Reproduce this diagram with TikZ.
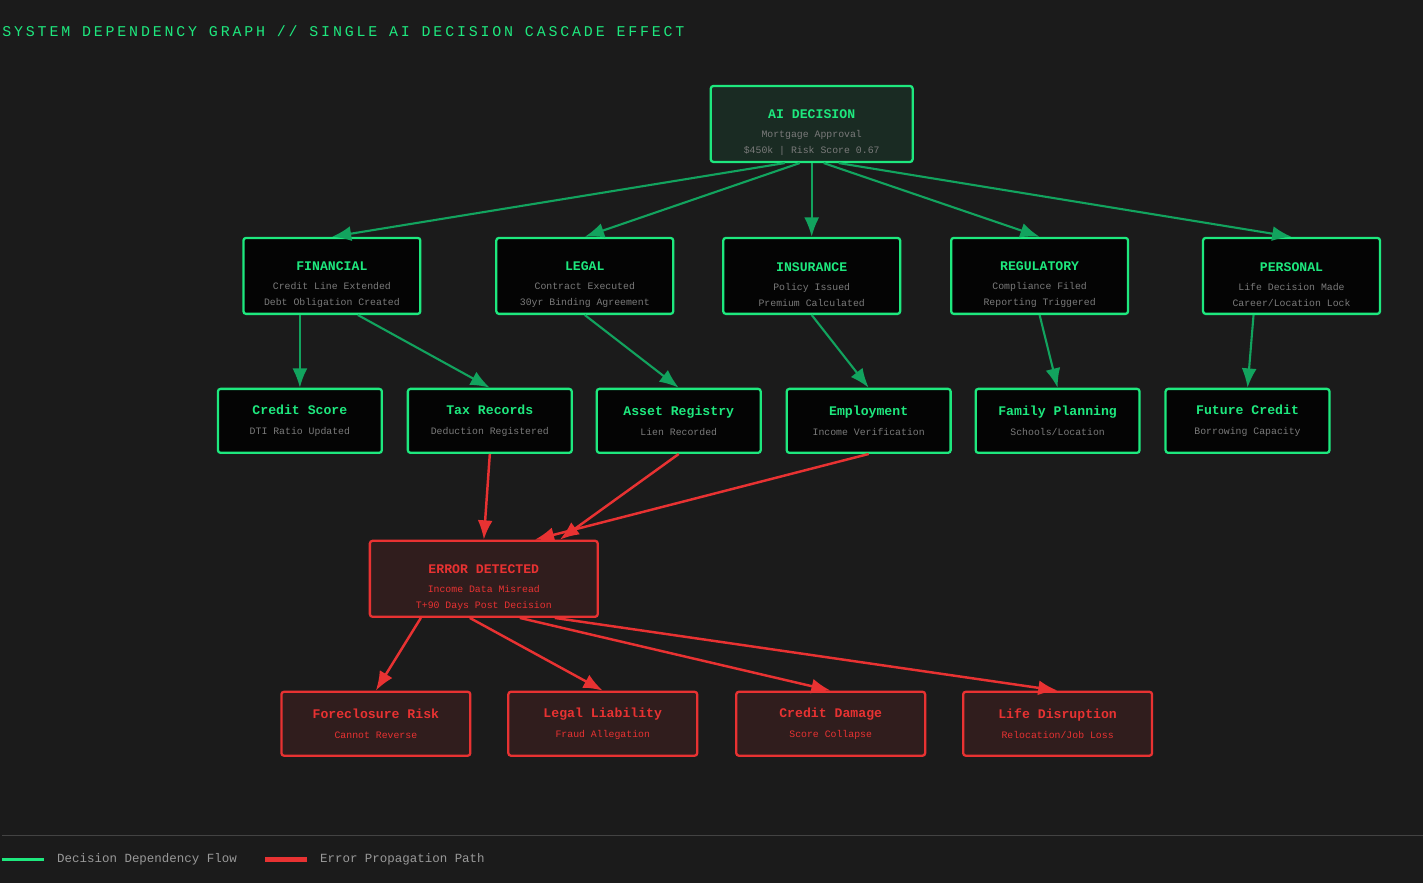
\documentclass[tikz,border=0pt]{standalone}
\usepackage{fontspec}
\setmainfont{Liberation Mono}
\newfontfamily\titlefont[LetterSpace=19]{Liberation Mono}
\usetikzlibrary{arrows.meta,positioning}
\definecolor{bgdark}{HTML}{1B1B1B}
\definecolor{okgreen}{HTML}{1EE87E}
\definecolor{okline}{HTML}{12A35E}
\definecolor{errred}{HTML}{E83232}
\definecolor{subgray}{HTML}{7A7A7A}
\tikzset{
  okbox/.style={draw=okgreen, line width=1.3pt, fill=black!85!bgdark, rounded corners=1.5pt,
    minimum width=3.54cm, minimum height=1.52cm, align=center, font=\fontsize{5.6}{9}\selectfont, text=subgray},
  smallbox/.style={okbox, minimum width=3.28cm, minimum height=1.28cm},
  errbox/.style={okbox, draw=errred, fill=errred!10!bgdark, text=errred},
  errsmall/.style={errbox, minimum width=3.78cm, minimum height=1.28cm},
  okflow/.style={draw=okline, line width=1.2pt, -{Latex[length=11pt,width=8.5pt]}},
  errflow/.style={draw=errred, line width=1.4pt, -{Latex[length=11pt,width=8.5pt]}},
}
\newcommand{\hd}[2]{{\fontsize{7.5}{10}\selectfont\bfseries\color{#1}#2}\\[2pt]}
\newcommand{\hdd}[2]{{\fontsize{7.5}{10}\selectfont\bfseries\color{#1}\rule{0pt}{15pt}#2}\\[2pt]}
\newcommand{\px}[1]{#1*0.02cm}
\begin{document}
\begin{tikzpicture}[x=0.02cm,y=-0.02cm]
  \fill[bgdark] (0,0) rectangle (1424,883);
  \node[anchor=west, inner sep=0pt, text=okgreen, font=\titlefont\fontsize{8.5}{10}\selectfont] (title) at (2,31) {SYSTEM DEPENDENCY GRAPH // SINGLE AI DECISION CASCADE EFFECT};
  % root
  \node[okbox, fill=okline!12!bgdark, minimum width=4.04cm] (ai) at (812,124) {\hdd{okgreen}{AI DECISION}Mortgage Approval\\\$450k | Risk Score 0.67};
  % domains
  \node[okbox] (fin) at (332,276) {\hdd{okgreen}{FINANCIAL}Credit Line Extended\\Debt Obligation Created};
  \node[okbox] (leg) at (585,276) {\hdd{okgreen}{LEGAL}Contract Executed\\30yr Binding Agreement};
  \node[okbox] (ins) at (812,276) {\hdd{okgreen}{INSURANCE}Policy Issued\\Premium Calculated};
  \node[okbox] (reg) at (1040,276) {\hdd{okgreen}{REGULATORY}Compliance Filed\\Reporting Triggered};
  \node[okbox] (per) at (1292,276) {\hdd{okgreen}{PERSONAL}Life Decision Made\\Career/Location Lock};
  % records
  \node[smallbox] (cred) at (300,421) {\hd{okgreen}{Credit Score}DTI Ratio Updated};
  \node[smallbox] (tax) at (490,421) {\hd{okgreen}{Tax Records}Deduction Registered};
  \node[smallbox] (asset) at (679,421) {\hd{okgreen}{Asset Registry}Lien Recorded};
  \node[smallbox] (emp) at (869,421) {\hd{okgreen}{Employment}Income Verification};
  \node[smallbox] (fam) at (1058,421) {\hd{okgreen}{Family Planning}Schools/Location};
  \node[smallbox] (fut) at (1248,421) {\hd{okgreen}{Future Credit}Borrowing Capacity};
  % error
  \node[errbox, minimum width=4.56cm] (err) at (484,579) {\hdd{errred}{ERROR DETECTED}Income Data Misread\\T+90 Days Post Decision};
  \node[errsmall] (fore) at (376,724) {\hd{errred}{Foreclosure Risk}Cannot Reverse};
  \node[errsmall] (liab) at (603,724) {\hd{errred}{Legal Liability}Fraud Allegation};
  \node[errsmall] (dmg) at (831,724) {\hd{errred}{Credit Damage}Score Collapse};
  \node[errsmall] (life) at (1058,724) {\hd{errred}{Life Disruption}Relocation/Job Loss};
  % dependency flow
  \draw[okflow] ([xshift=\px{-27}]ai.south) -- (fin.north);
  \draw[okflow] ([xshift=\px{-12}]ai.south) -- (leg.north);
  \draw[okflow] (ai.south) -- (ins.north);
  \draw[okflow] ([xshift=\px{12}]ai.south) -- (reg.north);
  \draw[okflow] ([xshift=\px{27}]ai.south) -- (per.north);
  \draw[okflow] ([xshift=\px{-32}]fin.south) -- (cred.north);
  \draw[okflow] ([xshift=\px{26}]fin.south) -- (tax.north);
  \draw[okflow] (leg.south) -- (asset.north);
  \draw[okflow] (ins.south) -- (emp.north);
  \draw[okflow] (reg.south) -- (fam.north);
  \draw[okflow] ([xshift=\px{-38}]per.south) -- (fut.north);
  % error propagation
  \draw[errflow] (tax.south) -- (err.north);
  \draw[errflow] (asset.south) -- ([xshift=\px{76}]err.north);
  \draw[errflow] (emp.south) -- ([xshift=\px{51}]err.north);
  \draw[errflow] ([xshift=\px{-63}]err.south) -- (fore.north);
  \draw[errflow] ([xshift=\px{-14}]err.south) -- (liab.north);
  \draw[errflow] ([xshift=\px{36}]err.south) -- (dmg.north);
  \draw[errflow] ([xshift=\px{71}]err.south) -- (life.north);
  % legend
  \draw[gray!40!bgdark, line width=0.6pt] (2,836) -- (1424,836);
  \coordinate (g1) at (2,860); \coordinate (g2) at (44,860);
  \draw[okgreen, line width=1.6pt] (g1) -- (g2);
  \node[anchor=west, text=gray!80, font=\fontsize{7.1}{9}\selectfont] (lg) at (51,860) {Decision Dependency Flow};
  \coordinate (r1) at (265,860); \coordinate (r2) at (307,860);
  \draw[errred, line width=2.6pt] (r1) -- (r2);
  \node[anchor=west, text=gray!80, font=\fontsize{7.1}{9}\selectfont] (lr) at (314,860) {Error Propagation Path};
\end{tikzpicture}
\end{document}
